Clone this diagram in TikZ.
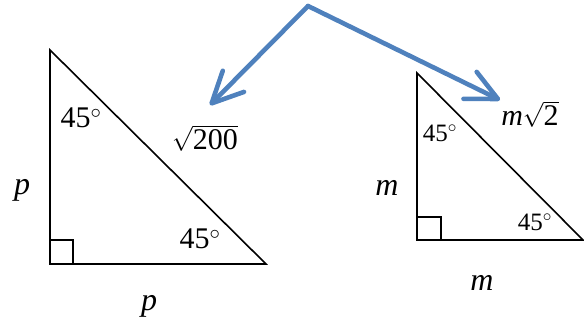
\documentclass[tikz,border=0pt]{standalone}
\usepackage{fontspec}
\setmainfont{Liberation Serif}
\usepackage{amsmath}
\usetikzlibrary{arrows.meta}
\definecolor{ArrBlue}{RGB}{79, 129, 189}

\begin{document}
\begin{tikzpicture}[x=1pt,y=-1pt,
                tri/.style={black,line width=1.6pt,line join=miter},
                rsq/.style={black,line width=1.6pt},
                bar/.style={ArrBlue,line width=4.6pt,line cap=round,line join=round,
                    -{Straight Barb[length=31pt,width=30pt,line cap=round,line join=round]}},
                lbl/.style={inner sep=0pt,font=\fontsize{30}{32}\selectfont},
                sl/.style={inner sep=0pt,font=\fontsize{25}{27}\selectfont}
            ]
                \useasboundingbox (0,0) rectangle (584,323);
                % Left triangle
                \coordinate (lT) at (50,50);
                \coordinate (lR) at (50,264);
                \coordinate (lE) at (266,264);
                \draw[tri] (lT)--(lR)--(lE)--cycle;
                \draw[rsq] (lR) rectangle ++(23,-24);
                \node[lbl] (la1) at (81,118) {45$^\circ$};
                \node[lbl] (la2) at (200,239) {45$^\circ$};
                \node[lbl] (lh) at (205,138) {$\sqrt{\text{200}}$};
                \node[lbl,font=\fontsize{32}{34}\selectfont] (lp1) at (22,190) {\itshape p};
                \node[lbl,font=\fontsize{32}{34}\selectfont] (lp2) at (149,306) {\itshape p};
                % Right triangle
                \coordinate (rT) at (417,73);
                \coordinate (rR) at (417,240);
                \coordinate (rE) at (583,240);
                \draw[tri] (rT)--(rR)--(rE)--cycle;
                \draw[rsq] (rR) rectangle ++(24,-23);
                \node[sl] (ra1) at (440,133) {45$^\circ$};
                \node[sl] (ra2) at (535,222) {45$^\circ$};
                \node[lbl] (rh) at (530,114) {{\itshape m}$\sqrt{\text{2}}$};
                \node[lbl,font=\fontsize{32}{34}\selectfont] (rm1) at (387,188) {\itshape m};
                \node[lbl,font=\fontsize{32}{34}\selectfont] (rm2) at (482,283) {\itshape m};
                % Arrows
                \coordinate (top) at (308,6);
                \coordinate (lTip) at (210,105);
                \coordinate (rTip) at (500,100);
                \draw[bar] (top)--(lTip);
                \draw[bar] (top)--(rTip);
            \end{tikzpicture}
\end{document}
